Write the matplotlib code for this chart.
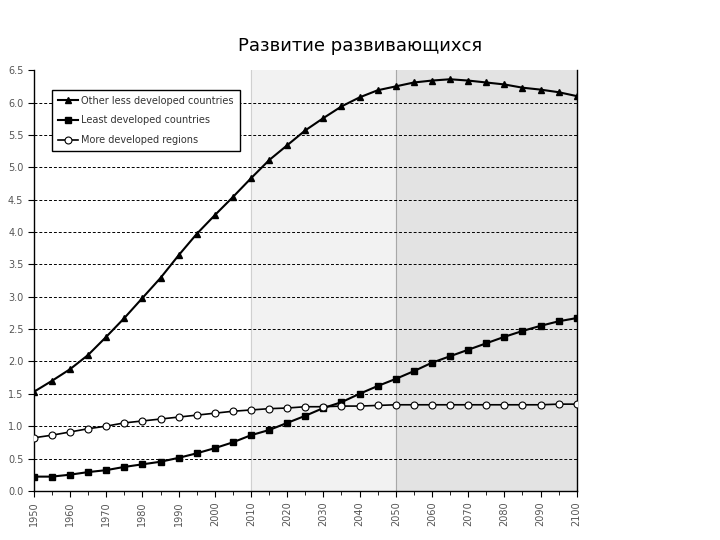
import matplotlib
matplotlib.use('Agg')
import matplotlib.pyplot as plt
import numpy as np

# Data
years = list(range(1950, 2101, 5))
other_less = [1.53, 1.70, 1.88, 2.10, 2.38, 2.67, 2.98, 3.29, 3.64, 3.97,
              4.26, 4.54, 4.83, 5.11, 5.34, 5.57, 5.76, 5.94, 6.08, 6.19,
              6.25, 6.31, 6.34, 6.36, 6.34, 6.31, 6.28, 6.23, 6.20, 6.16, 6.10]
least_dev = [0.22, 0.22, 0.25, 0.29, 0.32, 0.37, 0.41, 0.45, 0.51, 0.58,
             0.66, 0.75, 0.86, 0.94, 1.05, 1.16, 1.28, 1.37, 1.50, 1.62,
             1.73, 1.85, 1.98, 2.08, 2.18, 2.28, 2.38, 2.47, 2.55, 2.62, 2.67]
more_dev = [0.82, 0.86, 0.91, 0.96, 1.00, 1.05, 1.08, 1.11, 1.14, 1.17,
            1.20, 1.23, 1.25, 1.27, 1.28, 1.30, 1.30, 1.31, 1.31, 1.32,
            1.33, 1.33, 1.33, 1.33, 1.33, 1.33, 1.33, 1.33, 1.33, 1.34, 1.34]
labels = ['Other less developed countries', 'Least developed countries',
          'More developed regions']
title = 'Развитие развивающихся'

fig = plt.figure(figsize=(7.2, 5.4), dpi=100)
ax = fig.add_axes([0.047, 0.091, 0.754, 0.779])

# shaded projection periods
ax.axvspan(2010, 2050, color='#f2f2f2', zorder=0)
ax.axvspan(2050, 2100, color='#e3e3e3', zorder=0)
ax.axvline(2010, color='#d0d0d0', lw=0.8, zorder=0.5)
ax.axvline(2050, color='#a8a8a8', lw=0.8, zorder=0.5)

for yv in np.arange(0.5, 6.5, 0.5):
    ax.axhline(yv, color='black', lw=0.7, ls=(0, (3, 2)), zorder=1)

ax.plot(years, other_less, color='black', lw=1.5, marker='^', ms=5,
        markerfacecolor='black', label=labels[0], zorder=3)
ax.plot(years, least_dev, color='black', lw=1.5, marker='s', ms=5,
        markerfacecolor='black', label=labels[1], zorder=3)
ax.plot(years, more_dev, color='black', lw=1.2, marker='o', ms=5,
        markerfacecolor='white', markeredgewidth=0.8, label=labels[2], zorder=3)

ax.set_xlim(1950, 2100)
ax.set_ylim(0, 6.5)
ax.set_xticks(range(1950, 2101, 10))
ax.set_xticks(range(1950, 2101, 5), minor=True)
ax.set_yticks(np.arange(0, 6.51, 0.5))
ax.set_yticklabels([f'{v:.1f}' for v in np.arange(0, 6.51, 0.5)])
ax.tick_params(axis='x', labelrotation=90, labelsize=7, labelcolor='#555555',
               length=4, direction='out')
ax.tick_params(axis='x', which='minor', length=3)
ax.tick_params(axis='y', labelsize=7, labelcolor='#555555', length=4)
ax.tick_params(axis='both', color='black')

ax.spines['top'].set_visible(False)
for s in ['left', 'bottom', 'right']:
    ax.spines[s].set_color('black')
    ax.spines[s].set_linewidth(1.0)

leg = ax.legend(loc='upper left', bbox_to_anchor=(0.025, 0.965), fontsize=7,
                frameon=True, fancybox=False, framealpha=1, edgecolor='black',
                handlelength=2.0, handletextpad=0.4, borderpad=0.6,
                labelspacing=1.0)
leg.get_frame().set_linewidth(1.0)
for t in leg.get_texts():
    t.set_color('#333333')

fig.text(0.5, 0.905, title, ha='center', fontsize=13)

fig.savefig('out.png', dpi=100)
